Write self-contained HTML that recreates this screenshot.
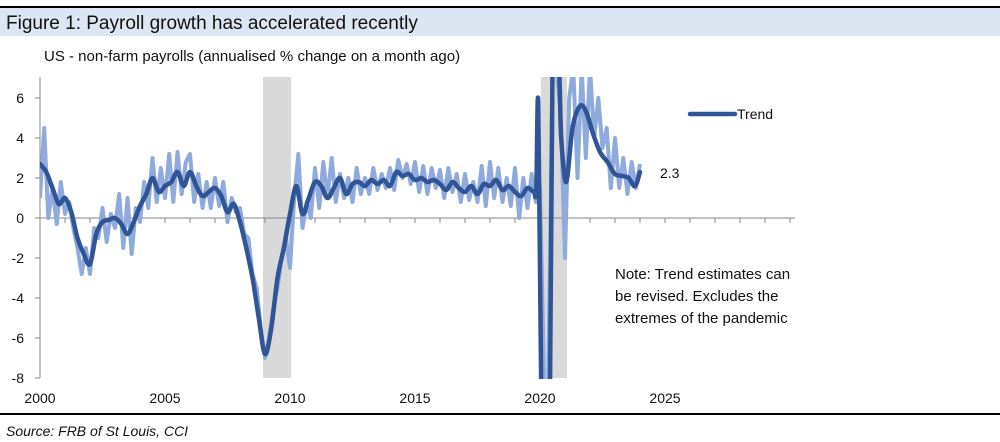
<!DOCTYPE html>
<html><head><meta charset="utf-8"><style>
html,body{margin:0;width:1000px;height:442px;background:#fff;overflow:hidden;font-family:"Liberation Sans",sans-serif;}
svg{display:block;overflow:hidden;}
</style></head><body>
<svg id="c" width="1000" height="442" font-family="Liberation Sans, sans-serif">
<rect x="0" y="8" width="1000" height="28" fill="#dce6f2"/>
<line x1="0" y1="7" x2="1000" y2="7" stroke="#000" stroke-width="2"/>
<text x="6" y="29" font-size="19" fill="#111">Figure 1: Payroll growth has accelerated recently</text>
<text x="44" y="61" font-size="15" fill="#111">US - non-farm payrolls (annualised % change on a month ago)</text>
<line x1="0" y1="414" x2="1000" y2="414" stroke="#000" stroke-width="2"/>
<text x="6" y="436" font-size="14" font-style="italic" fill="#111">Source: FRB of St Louis, CCI</text>
<g id="plot"></g>
<line x1="690" y1="114" x2="735" y2="114" stroke="#2f5597" stroke-width="4.5" stroke-linecap="round"/>
<text x="737" y="119" font-size="14" fill="#111">Trend</text>
<text x="660" y="178" font-size="14" fill="#111">2.3</text>
<g font-size="15" fill="#111">
<text x="615" y="279">Note: Trend estimates can</text>
<text x="615" y="301">be revised. Excludes the</text>
<text x="615" y="323">extremes of the pandemic</text>
</g>
</svg>
<script>
const yTicks=[6,4,2,0,-2,-4,-6,-8];
const xTickLabels=[2000,2005,2010,2015,2020,2025];
const recessions=[[2008.92,2010.04],[2020.04,2021.08]];
const rawStart=2000, rawStep=1/6;
const rawVals=[1.0,4.5,0.0,1.5,-0.3,1.8,
0.2,0.8,-0.5,-1.5,-2.8,-1.5,
-2.8,-0.5,-1.0,0.5,-1.2,0.2,
-0.5,1.2,-1.5,1.0,-1.8,0.5,
-0.2,1.8,0.5,3.0,0.8,2.5,
1.0,3.2,0.8,3.3,1.2,2.8,
3.2,0.8,2.2,0.5,1.8,0.5,
2.0,0.6,1.8,-0.2,1.0,0.3,
0.5,-0.8,-1.0,-2.8,-3.5,-5.5,
-7.0,-6.0,-4.5,-3.5,-2.0,-1.0,
-2.5,1.0,3.2,-0.5,0.8,0.0,
2.5,0.5,2.8,1.0,3.0,0.8,
2.2,1.0,2.0,0.8,2.5,1.2,
2.0,1.2,2.5,1.4,2.2,1.5,
2.5,1.4,2.9,2.0,2.7,1.7,
2.8,1.3,2.6,1.2,2.5,1.5,
2.4,1.0,2.5,1.3,2.2,0.8,
2.2,0.9,1.8,0.8,2.6,0.6,
2.8,1.0,2.5,0.8,2.0,0.6,
2.5,0.0,2.0,0.5,2.2,0.8,
1.5,-30,-30,30,30,5,
-2.0,6.0,9,2.0,9,3.0,
9,4.0,6.0,3.5,4.5,1.5,
4.0,1.5,3.0,1.2,2.8,1.5,
2.7];
const trendStart=2000, trendStep=0.25;
const trendVals=[2.7,2.3,1.5,0.7, 1.0,0.3,-1.0,-1.8, -2.3,-0.8,-0.2,-0.1, 0.0,-0.3,-0.8,-0.2,
0.6,1.2,2.0,1.3, 1.6,1.8,2.3,1.6, 2.3,1.6,1.1,1.3, 1.5,1.1,0.3,0.7,
-0.2,-1.5,-3.0,-5.0, -6.8,-5.5,-3.0,-1.5, 0.2,1.6,0.2,1.0, 1.8,1.6,1.0,1.5,
2.0,1.2,1.7,1.8, 1.6,1.9,1.7,1.9, 1.6,2.3,2.1,2.2, 1.9,2.0,1.8,1.9,
1.7,1.4,1.8,1.5, 1.3,1.6,1.2,1.7, 1.6,1.9,1.4,1.6, 1.3,1.1,1.5,1.3];
const postYears=[2019.85,2019.93,2020.05,2020.4,2020.5,2020.75,2020.85,2021.05,2021.3,2021.6,2021.85,2022.1,2022.4,2022.7,2023.0,2023.3,2023.55,2023.8,2024.0];
const postVals=[1.4,5.7,-30,-30,30,30,4,1.8,4.5,5.6,5.3,4.3,3.3,2.8,2.2,2.1,2.0,1.6,2.3];

const NS='http://www.w3.org/2000/svg';
const X=y=>40+(y-2000)*25, Y=v=>218-Math.max(-8.5,Math.min(7.5,v))*20;
const g=document.getElementById('plot');
function mk(t,a){const e=document.createElementNS(NS,t);for(const k in a)e.setAttribute(k,a[k]);g.appendChild(e);return e;}
function smooth(p){let d='M'+p[0][0].toFixed(1)+','+p[0][1].toFixed(1);
for(let i=0;i<p.length-1;i++){const p0=p[i-1]||p[i],p1=p[i],p2=p[i+1],p3=p[i+2]||p2;
const big=Math.abs(p2[1]-p1[1])>150;const k=big?0:1/6;
d+=' C'+(p1[0]+(p2[0]-p0[0])*k).toFixed(1)+','+(p1[1]+(p2[1]-p0[1])*k).toFixed(1)+' '+(p2[0]-(p3[0]-p1[0])*k).toFixed(1)+','+(p2[1]-(p3[1]-p1[1])*k).toFixed(1)+' '+p2[0].toFixed(1)+','+p2[1].toFixed(1);}
return d;}
const defs=mk('defs',{});
const cp=document.createElementNS(NS,'clipPath');cp.setAttribute('id','clip');
const cr=document.createElementNS(NS,'rect');cr.setAttribute('x',40);cr.setAttribute('y',77);cr.setAttribute('width',760);cr.setAttribute('height',302);
cp.appendChild(cr);defs.appendChild(cp);
recessions.forEach(r=>{
const e=mk('rect',{x:X(r[0]),y:77,width:X(r[1])-X(r[0]),height:301,fill:'#d9d9d9'});


});
const ax=mk('line',{x1:40,y1:Y(0),x2:795,y2:Y(0),stroke:'#888','stroke-width':1});


for(let yr=2000;yr<=2030;yr++){mk('line',{x1:X(yr),y1:Y(0),x2:X(yr),y2:Y(0)+5,stroke:'#888'});}
const yax=mk('line',{x1:40,y1:77,x2:40,y2:378,stroke:'#888'});


yTicks.forEach(v=>{
mk('line',{x1:35,y1:Y(v),x2:40,y2:Y(v),stroke:'#888'});
const t=mk('text',{x:24,y:Y(v)+5,'font-size':14,fill:'#111','text-anchor':'end'});t.textContent=v;


});
xTickLabels.forEach(yr=>{
const t=mk('text',{x:X(yr),y:403,'font-size':14,fill:'#111','text-anchor':'middle'});t.textContent=yr;


});
const rawPts=rawVals.map((v,i)=>X(rawStart+i*rawStep).toFixed(1)+','+Y(v).toFixed(1)).join(' ');
const raw=mk('polyline',{points:rawPts,fill:'none',stroke:'#8faadc','stroke-width':4,'stroke-linejoin':'round','clip-path':'url(#clip)'});


const tp=trendVals.map((v,i)=>[X(trendStart+i*trendStep),Y(v)]).concat(postYears.map((y,i)=>[X(y),Y(postVals[i])]));
const tr=mk('path',{d:smooth(tp),fill:'none',stroke:'#2f5597','stroke-width':4.5,'stroke-linejoin':'round','stroke-linecap':'round','clip-path':'url(#clip)'});


</script>
</body></html>
